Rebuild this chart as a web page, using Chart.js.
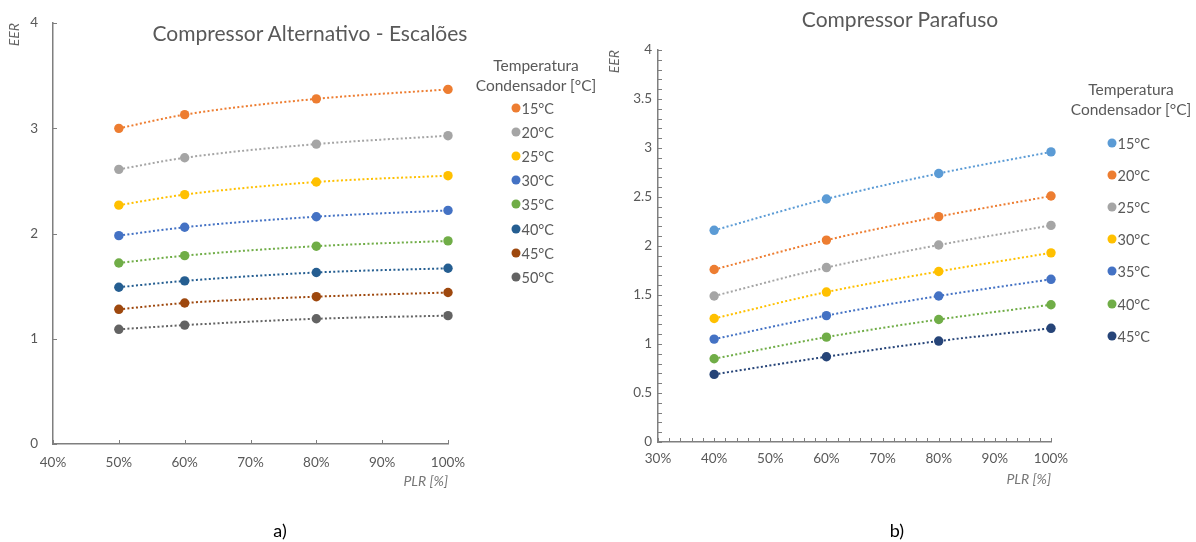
<!DOCTYPE html>
<html><head><meta charset="utf-8">
<script src="https://cdn.jsdelivr.net/npm/chart.js@4.4.1/dist/chart.umd.min.js"></script>
<style>
html,body{margin:0;padding:0;background:#fff;}
body{width:1196px;height:542px;position:relative;overflow:hidden;font-family:Lato,"Open Sans",sans-serif;color:#595959;}
.abs{position:absolute;}
.title{position:absolute;font-size:21px;white-space:nowrap;transform:translate(-50%,-50%);color:#595959;}
.lgtitle{position:absolute;font-size:15.5px;white-space:nowrap;transform:translate(-50%,-50%);text-align:center;color:#595959;}
.item{position:absolute;font-size:14.5px;white-space:nowrap;transform:translateY(-50%);color:#595959;}
.dot{position:absolute;width:9px;height:9px;border-radius:50%;transform:translate(-50%,-50%);}
.cap{position:absolute;font-size:18px;color:#000;transform:translate(-50%,-50%);}
</style></head>
<body>
<div class="abs" style="left:0;top:0;width:600px;height:542px"><canvas id="c1" width="600" height="542"></canvas></div>
<div class="abs" style="left:600px;top:0;width:596px;height:542px"><canvas id="c2" width="596" height="542"></canvas></div>
<div class="title" style="left:310px;top:32px">Compressor Alternativo - Escalões</div>
<div class="title" style="left:900px;top:18px">Compressor Parafuso</div>
<div class="cap" style="left:280px;top:530px">a)</div>
<div class="cap" style="left:897px;top:530px">b)</div>
<div id="lg1"></div>
<div id="lg2"></div>
<script>
// ---------- DATA ----------
// (a) Compressor Alternativo - Escalões
const plrA = [50, 60, 80, 100];
const labelsA = ['15°C', '20°C', '25°C', '30°C', '35°C', '40°C', '45°C', '50°C'];
const altT15 = [3.00, 3.13, 3.28, 3.37];
const altT20 = [2.61, 2.72, 2.85, 2.93];
const altT25 = [2.27, 2.37, 2.49, 2.55];
const altT30 = [1.98, 2.06, 2.16, 2.22];
const altT35 = [1.72, 1.79, 1.88, 1.93];
const altT40 = [1.49, 1.55, 1.63, 1.67];
const altT45 = [1.28, 1.34, 1.40, 1.44];
const altT50 = [1.09, 1.13, 1.19, 1.22];
const colorsA = ['#ED7D31', '#A5A5A5', '#FFC000', '#4472C4', '#70AD47', '#255E91', '#9E480E', '#636363'];
const yTicksA = [0, 1, 2, 3, 4];
const xTicksA = [40, 50, 60, 70, 80, 90, 100];

// (b) Compressor Parafuso
const plrB = [40, 60, 80, 100];
const labelsB = ['15°C', '20°C', '25°C', '30°C', '35°C', '40°C', '45°C'];
const parT15 = [2.16, 2.48, 2.74, 2.96];
const parT20 = [1.76, 2.06, 2.30, 2.51];
const parT25 = [1.49, 1.78, 2.01, 2.21];
const parT30 = [1.26, 1.53, 1.74, 1.93];
const parT35 = [1.05, 1.29, 1.49, 1.66];
const parT40 = [0.85, 1.07, 1.25, 1.40];
const parT45 = [0.69, 0.87, 1.03, 1.16];
const colorsB = ['#5B9BD5', '#ED7D31', '#A5A5A5', '#FFC000', '#4472C4', '#70AD47', '#264478'];
const yTicksB = [0, 0.5, 1, 1.5, 2, 2.5, 3, 3.5, 4];
const xTicksB = [30, 40, 50, 60, 70, 80, 90, 100];

const seriesA = [altT15, altT20, altT25, altT30, altT35, altT40, altT45, altT50];
const seriesB = [parT15, parT20, parT25, parT30, parT35, parT40, parT45];

// ---------- helpers ----------
const FONT = 'Lato, "Open Sans", sans-serif';
const TXT = '#595959';
const AXIS = '#7f7f7f';

function mkDatasets(xs, series, labels, colors) {
  return series.map((vals, i) => ({
    label: labels[i],
    data: vals.map((v, j) => ({x: xs[j], y: v})),
    borderColor: colors[i],
    backgroundColor: colors[i],
    pointBackgroundColor: colors[i],
    pointBorderWidth: 0,
    pointRadius: 4.7,
    pointHoverRadius: 4.7,
    borderWidth: 2,
    borderDash: [2, 2.3],
    cubicInterpolationMode: 'monotone',
    clip: false,
    fill: false
  }));
}

// inside tick marks drawn from the scales
const insideTicks = {
  id: 'insideTicks',
  beforeDatasetsDraw(chart, args, opts) {
    const {ctx, chartArea} = chart;
    const xs = chart.scales.x, ys = chart.scales.y;
    ctx.save();
    ctx.strokeStyle = AXIS;
    ctx.lineWidth = 1;
    const L = opts.len || 4;
    for (let v = xs.min; v <= xs.max + 1e-9; v += opts.xStep) {
      const px = Math.round(xs.getPixelForValue(v)) + 0.5;
      ctx.beginPath(); ctx.moveTo(px, chartArea.bottom); ctx.lineTo(px, chartArea.bottom - L); ctx.stroke();
    }
    for (let v = ys.min; v <= ys.max + 1e-9; v += opts.yStep) {
      const py = Math.round(ys.getPixelForValue(v)) + 0.5;
      ctx.beginPath(); ctx.moveTo(chartArea.left, py); ctx.lineTo(chartArea.left + L, py); ctx.stroke();
    }
    ctx.restore();
  }
};

function mkChart(id, xs, series, labels, colors, cfg) {
  return new Chart(document.getElementById(id), {
    type: 'line',
    data: {datasets: mkDatasets(xs, series, labels, colors)},
    plugins: [insideTicks],
    options: {
      responsive: false,
      animation: false,
      events: [],
      layout: {padding: cfg.padding},
      plugins: {
        legend: {display: false},
        tooltip: {enabled: false},
        insideTicks: {xStep: cfg.xMinor, yStep: cfg.yMinor, len: 4}
      },
      scales: {
        x: {
          type: 'linear',
          min: cfg.xTicks[0], max: cfg.xTicks[cfg.xTicks.length - 1],
          afterBuildTicks: s => { s.ticks = cfg.xTicks.map(v => ({value: v})); },
          afterFit: s => { s.height = cfg.xHeight; },
          grid: {display: false, drawTicks: false},
          border: {display: true, color: AXIS, width: 1.5},
          ticks: {
            padding: cfg.xPad, color: TXT, autoSkip: false, maxRotation: 0,
            font: {family: FONT, size: 13.5},
            callback: v => v + '%'
          },
          title: {display: true, text: 'PLR [%]', align: 'end', color: '#777777',
                  font: {family: FONT, size: 14, style: 'italic'}, padding: {top: 0, bottom: 0}}
        },
        y: {
          type: 'linear',
          min: cfg.yTicks[0], max: cfg.yTicks[cfg.yTicks.length - 1],
          afterBuildTicks: s => { s.ticks = cfg.yTicks.map(v => ({value: v})); },
          afterFit: s => { s.width = cfg.yWidth; },
          grid: {display: false, drawTicks: false},
          border: {display: true, color: AXIS, width: 1.5},
          ticks: {padding: cfg.yPad, color: TXT, font: {family: FONT, size: 13.5},
                  callback: v => String(v)},
          title: {display: true, text: 'EER', align: 'end', color: '#666666',
                  font: {family: FONT, size: 14, style: 'italic'}, padding: {top: 6, bottom: 0}}
        }
      }
    }
  });
}

mkChart('c1', plrA, seriesA, labelsA, colorsA, {
  padding: {left: 0, right: 152, top: 20, bottom: 52},
  xTicks: xTicksA, yTicks: yTicksA, xMinor: 10, yMinor: 1,
  xHeight: 46, yWidth: 53, xPad: 11, yPad: 15
});
mkChart('c2', plrB, seriesB, labelsB, colorsB, {
  padding: {left: 0, right: 145, top: 50, bottom: 54},
  xTicks: xTicksB, yTicks: yTicksB, xMinor: 2, yMinor: 0.1,
  xHeight: 46, yWidth: 58, xPad: 9, yPad: 6
});

// ---------- legends (HTML) ----------
function mkLegend(elId, labels, colors, cx, y0, markerX, firstY, step) {
  const el = document.getElementById(elId);
  let html = `<div class="lgtitle" style="left:${cx}px;top:${y0}px">Temperatura</div>` +
             `<div class="lgtitle" style="left:${cx}px;top:${y0 + 20}px">Condensador [°C]</div>`;
  labels.forEach((lab, i) => {
    const y = firstY + i * step;
    html += `<div class="dot" style="left:${markerX}px;top:${y}px;background:${colors[i]}"></div>` +
            `<div class="item" style="left:${markerX + 5.5}px;top:${y}px">${lab}</div>`;
  });
  el.innerHTML = html;
}
mkLegend('lg1', labelsA, colorsA, 536, 65, 516, 108, 24.1);
mkLegend('lg2', labelsB, colorsB, 1131, 89, 1112, 142.5, 32.2);
</script>
</body></html>
